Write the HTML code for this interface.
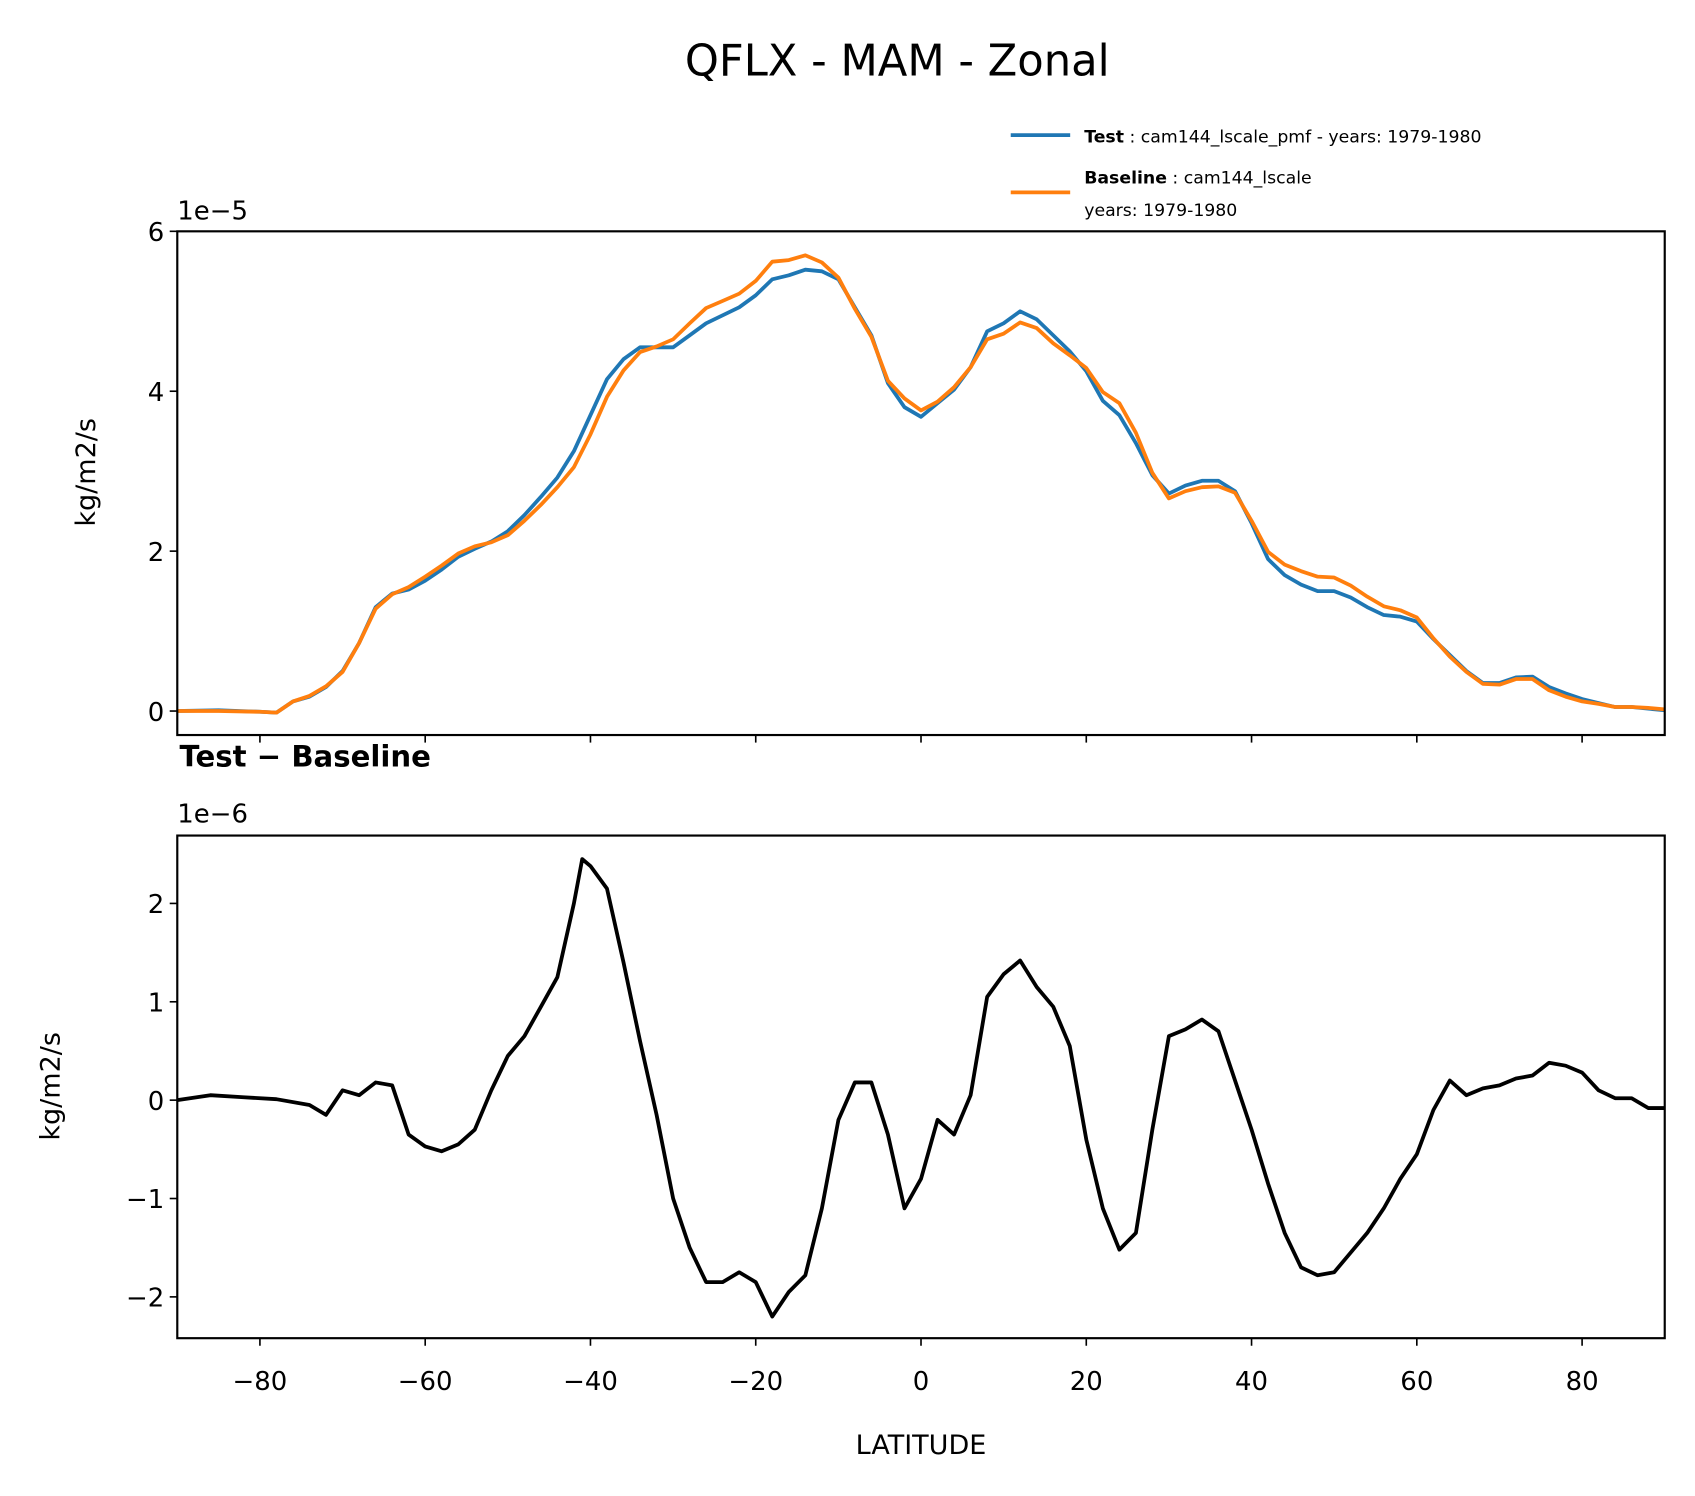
<!DOCTYPE html>
<html><head><meta charset="utf-8"><style>
html,body{margin:0;padding:0;background:#fff}
svg{display:block}
text{font-family:"DejaVu Sans","Liberation Sans",sans-serif;fill:#000}
</style></head><body>
<svg id="chart" width="1695" height="1496" viewBox="0 0 1568 1384" preserveAspectRatio="none" xmlns="http://www.w3.org/2000/svg">
<rect width="1568" height="1384" fill="#fff"/>
<text x="830" y="70" font-size="40" text-anchor="middle">QFLX - MAM - Zonal</text>
<g>
<line x1="935" y1="125" x2="990" y2="125" stroke="#1f77b4" stroke-width="3.5"/>
<text x="1003" y="132" font-size="16"><tspan font-weight="bold">Test</tspan> : cam144_lscale_pmf - years: 1979-1980</text>
<line x1="935" y1="178" x2="990" y2="178" stroke="#ff7f0e" stroke-width="3.5"/>
<text x="1003" y="170" font-size="16"><tspan font-weight="bold">Baseline</tspan> : cam144_lscale</text>
<text x="1003" y="200" font-size="16">years: 1979-1980</text>
</g>
<text x="164" y="203" font-size="24">1e−5</text>
<text x="166" y="709" font-size="27" font-weight="bold">Test − Baseline</text>
<text x="164" y="761" font-size="24">1e−6</text>
<text transform="translate(88,437) rotate(-90)" font-size="25" text-anchor="middle">kg/m2/s</text>
<text transform="translate(55,1005) rotate(-90)" font-size="25" text-anchor="middle">kg/m2/s</text>
<text x="852" y="1345" font-size="25" text-anchor="middle">LATITUDE</text>
<g id="top"></g><g id="bot"></g>
</svg>
<script>
const latTop=[-90,-85,-80,-78,-76,-74,-72,-70,-68,-66,-64,-62,-60,-58,-56,-54,-52,-50,-48,-46,-44,-42,-40,-38,-36,-34,-32,-30,-28,-26,-24,-22,-20,-18,-16,-14,-12,-10,-8,-6,-4,-2,0,2,4,6,8,10,12,14,16,18,20,22,24,26,28,30,32,34,36,38,40,42,44,46,48,50,52,54,56,58,60,62,64,66,68,70,72,74,76,78,80,82,84,86,88,90];
const testVals=[0,0.01,-0.01,-0.02,0.12,0.18,0.3,0.5,0.85,1.3,1.47,1.52,1.63,1.77,1.93,2.03,2.12,2.25,2.45,2.68,2.92,3.25,3.7,4.15,4.4,4.55,4.55,4.55,4.7,4.85,4.95,5.05,5.2,5.4,5.45,5.52,5.5,5.4,5.05,4.7,4.1,3.8,3.68,3.85,4.02,4.3,4.75,4.85,5.0,4.9,4.7,4.5,4.25,3.88,3.7,3.35,2.95,2.72,2.82,2.88,2.88,2.75,2.35,1.9,1.7,1.58,1.5,1.5,1.42,1.3,1.2,1.18,1.12,0.9,0.7,0.5,0.35,0.35,0.42,0.43,0.3,0.22,0.15,0.1,0.05,0.05,0.03,0.01];
const baseVals=[0,0,-0.01,-0.02,0.12,0.19,0.31,0.49,0.85,1.28,1.46,1.55,1.68,1.82,1.97,2.06,2.11,2.2,2.38,2.58,2.8,3.05,3.46,3.93,4.26,4.49,4.56,4.65,4.85,5.04,5.13,5.22,5.38,5.62,5.64,5.7,5.61,5.42,5.03,4.68,4.13,3.91,3.76,3.87,4.05,4.3,4.65,4.72,4.86,4.79,4.6,4.45,4.29,3.99,3.85,3.48,2.98,2.66,2.75,2.8,2.81,2.73,2.38,1.99,1.83,1.75,1.68,1.67,1.57,1.43,1.31,1.26,1.17,0.91,0.68,0.49,0.34,0.33,0.4,0.4,0.26,0.18,0.12,0.09,0.05,0.05,0.04,0.02];
const latDiff=[-90,-86,-82,-78,-74,-72,-70,-68,-66,-64,-62,-60,-58,-56,-54,-52,-50,-48,-46,-44,-42,-41,-40,-38,-36,-34,-32,-30,-28,-26,-24,-22,-20,-18,-16,-14,-12,-10,-8,-6,-4,-2,0,2,4,6,8,10,12,14,16,18,20,22,24,26,28,30,32,34,36,38,40,42,44,46,48,50,52,54,56,58,60,62,64,66,68,70,72,74,76,78,80,82,84,86,88,90];
const diffVals=[0,0.05,0.03,0.01,-0.05,-0.15,0.1,0.05,0.18,0.15,-0.35,-0.47,-0.52,-0.45,-0.3,0.1,0.45,0.65,0.95,1.25,2.0,2.45,2.38,2.15,1.4,0.6,-0.15,-1.0,-1.5,-1.85,-1.85,-1.75,-1.85,-2.2,-1.95,-1.78,-1.1,-0.2,0.18,0.18,-0.35,-1.1,-0.8,-0.2,-0.35,0.05,1.05,1.28,1.42,1.15,0.95,0.55,-0.4,-1.1,-1.52,-1.35,-0.3,0.65,0.72,0.82,0.7,0.2,-0.3,-0.85,-1.35,-1.7,-1.78,-1.75,-1.55,-1.35,-1.1,-0.8,-0.55,-0.1,0.2,0.05,0.12,0.15,0.22,0.25,0.38,0.35,0.28,0.1,0.02,0.02,-0.08,-0.08];
const xTicks=[-80,-60,-40,-20,0,20,40,60,80];
const topYTicks=[0,2,4,6];
const botYTicks=[-2,-1,0,1,2];

const NS="http://www.w3.org/2000/svg";
const L=164,R=1540;
const xs=v=>L+(v+90)/180*(R-L);
function mk(tag,attrs,parent){const e=document.createElementNS(NS,tag);for(const k in attrs)e.setAttribute(k,attrs[k]);parent.appendChild(e);return e;}
function panel(g,top,bot,ymin,ymax,yt,showX,name){
  const ys=v=>bot-(v-ymin)/(ymax-ymin)*(bot-top);
  const clip=mk('clipPath',{id:'c'+name},g);
  mk('rect',{x:L,y:top,width:R-L,height:bot-top},clip);
  yt.forEach(t=>{
    const y=ys(t);
    const tk=mk('line',{x1:L-7,x2:L,y1:y,y2:y,stroke:'#000','stroke-width':1.5},g);
    
    
    const tx=mk('text',{x:L-12,y:y+9,'font-size':24,'text-anchor':'end'},g);
    
    
    tx.textContent=String(t).replace('-','−');
  });
  xTicks.forEach(t=>{
    const x=xs(t);
    const tk=mk('line',{x1:x,x2:x,y1:bot,y2:bot+7,stroke:'#000','stroke-width':1.5},g);
    
    
    if(showX){
      const tx=mk('text',{x:x,y:bot+48,'font-size':24,'text-anchor':'middle'},g);
      
      
      tx.textContent=String(t).replace('-','−');
    }
  });
  return ys;
}
function line(g,lats,vals,ys,color,name,clipId){
  const p=mk('path',{d:lats.map((la,i)=>(i?'L':'M')+xs(la).toFixed(1)+','+ys(vals[i]).toFixed(1)).join(''),fill:'none',stroke:color,'stroke-width':3.5,'stroke-linejoin':'round','clip-path':'url(#'+clipId+')'},g);
  
  
}
const gt=document.getElementById('top');


const yt=panel(gt,214,680,-0.3,6.0,topYTicks,false,'top');
line(gt,latTop,testVals,yt,'#1f77b4','test-series','ctop');
line(gt,latTop,baseVals,yt,'#ff7f0e','baseline-series','ctop');
const f1=mk('rect',{x:L,y:214,width:R-L,height:466,fill:'none',stroke:'#000','stroke-width':2},gt);


const gb=document.getElementById('bot');


const yb=panel(gb,773,1238,-2.42,2.69,botYTicks,true,'bot');
line(gb,latDiff,diffVals,yb,'#000','difference-series','cbot');
const f2=mk('rect',{x:L,y:773,width:R-L,height:465,fill:'none',stroke:'#000','stroke-width':2},gb);


</script>
</body></html>
